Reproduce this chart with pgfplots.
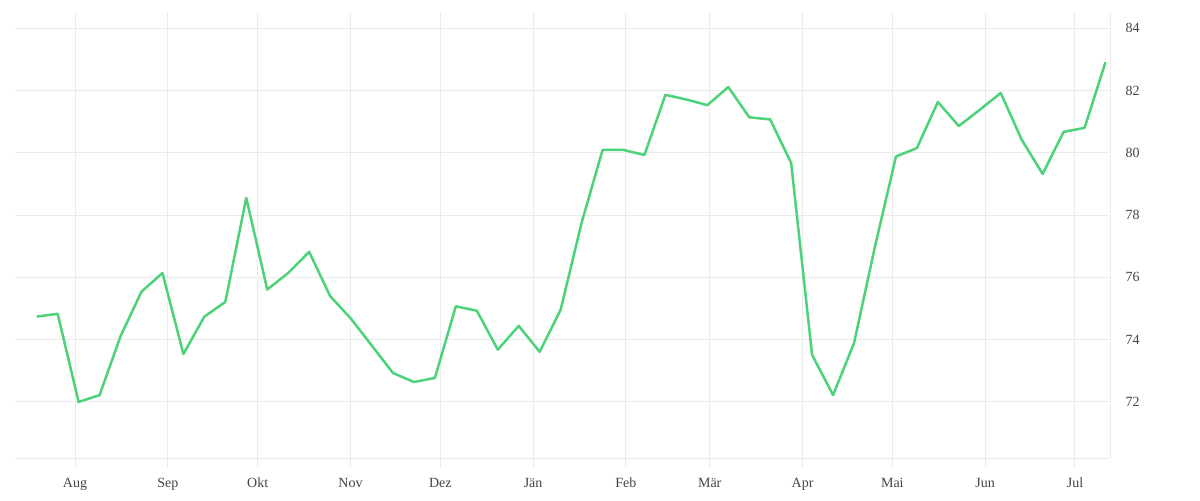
\documentclass[border=0pt]{standalone}
\usepackage{pgfplots}
\pgfplotsset{compat=1.18}
\usepackage{fontspec}
\setmainfont{Liberation Serif}
\definecolor{linegreen}{HTML}{4DD27A}
\definecolor{gridgray}{HTML}{EBEBEB}
\definecolor{labelgray}{HTML}{444444}
\begin{document}
\begin{tikzpicture}
\begin{axis}[
  scale only axis,
  width=1095pt, height=446pt,
  xmin=-7.25, xmax=358.5,
  ymin=70.2, ymax=84.52,
  axis line style={draw=gridgray, line width=1pt},
  axis x line*=bottom,
  axis y line*=right,
  xtick={12.8,43.8,73.8,104.8,134.8,165.8,196.8,224.8,255.8,285.8,316.8,346.8},
  xticklabels={Aug,Sep,Okt,Nov,Dez,Jän,Feb,Mär,Apr,Mai,Jun,Jul},
  ytick={72,74,76,78,80,82,84},
  grid=major,
  major grid style={draw=gridgray, line width=1pt},
  xtick style={gridgray, line width=1pt},
  xtick align=outside,
  major tick length=10pt,
  ytick style={draw=none},
  tick label style={font=\fontsize{14}{16}\selectfont, text=labelgray},
  /pgf/number format/assume math mode=true,
  xticklabel style={anchor=north, text height=10pt, text depth=3pt, yshift=-6pt},
  yticklabel style={xshift=12pt},
  clip=false,
]
\addplot[linegreen, line width=2.5pt, line join=round, mark=none] coordinates {
(0,74.74) (7,74.83) (14,72.00) (21,72.22) (28,74.11) (35,75.54) (42,76.14)
(49,73.54) (56,74.74) (63,75.21) (70,78.55) (77,75.61) (84,76.14) (91,76.82)
(98,75.40) (105,74.67) (112,73.80) (119,72.93) (126,72.64) (133,72.77)
(140,75.07) (147,74.93) (154,73.68) (161,74.44) (168,73.61) (175,74.96)
(182,77.75) (189,80.09) (196,80.09) (203,79.93) (210,81.86) (217,81.71)
(224,81.53) (231,82.11) (238,81.14) (245,81.07) (252,79.67) (259,73.51)
(266,72.22) (273,73.89) (280,76.99) (287,79.88) (294,80.15) (301,81.63)
(308,80.86) (315,81.38) (322,81.92) (329,80.42) (336,79.32) (343,80.67)
(350,80.80) (357,82.91)
};
\end{axis}
\path (current axis.south west) ++(-15pt,-42pt) rectangle ([shift={(90pt,12pt)}]current axis.north east);
\end{tikzpicture}
\end{document}
